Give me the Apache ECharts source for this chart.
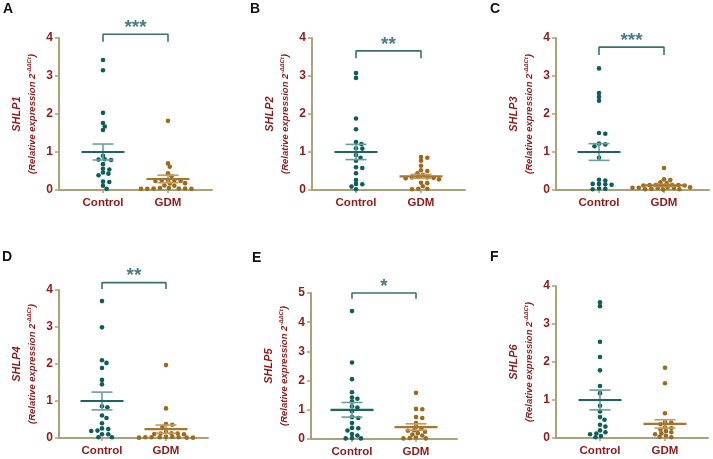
<!DOCTYPE html>
<html><head><meta charset="utf-8">
<script src="https://cdn.jsdelivr.net/npm/echarts@6/dist/echarts.min.js"></script>
<style>html,body{margin:0;padding:0;background:#fff}#c{width:713px;height:459px}</style>
</head><body><div id="c"></div>
<script>
// ---------- data ----------
const groups = ['Control', 'GDM'];
const panelLetters = ['A', 'B', 'C', 'D', 'E', 'F'];
const genes = ['SHLP1', 'SHLP2', 'SHLP3', 'SHLP4', 'SHLP5', 'SHLP6'];
const yMax = [4, 4, 4, 4, 5, 4];
const yTicks = [1, 1, 1, 1, 1, 1];

const ctrlA = [3.42, 3.15, 2.03, 1.76, 1.67, 1.58, 0.90, 0.81, 0.80, 0.79, 0.68, 0.56, 0.54, 0.46, 0.43, 0.39, 0.22, 0.21, 0.11, 0.03];
const gdmA  = [1.82, 0.70, 0.61, 0.44, 0.36, 0.26, 0.25, 0.25, 0.24, 0.24, 0.18, 0.17, 0.12, 0.11, 0.05, 0.05, 0.04, 0.04, 0.04, 0.03, 0.03, 0.03];
const ctrlB = [3.08, 2.95, 1.88, 1.60, 1.26, 1.21, 1.10, 1.09, 0.92, 0.85, 0.77, 0.60, 0.58, 0.44, 0.26, 0.16, 0.15, 0.09, 0.02];
const gdmB  = [0.87, 0.85, 0.77, 0.64, 0.52, 0.50, 0.44, 0.40, 0.34, 0.33, 0.33, 0.32, 0.31, 0.28, 0.19, 0.18, 0.10, 0.03, 0.03, 0.02];
const ctrlC = [3.20, 2.55, 2.45, 2.35, 1.50, 1.48, 1.22, 1.20, 1.15, 0.85, 0.27, 0.25, 0.16, 0.16, 0.15, 0.14, 0.04, 0.03, 0.02];
const gdmC  = [0.58, 0.28, 0.26, 0.20, 0.18, 0.14, 0.14, 0.13, 0.13, 0.12, 0.12, 0.11, 0.07, 0.07, 0.06, 0.06, 0.05, 0.05, 0.03, 0.02, 0.02, 0.01];
const ctrlD = [3.70, 2.99, 2.10, 2.03, 1.89, 1.57, 1.45, 0.86, 0.83, 0.61, 0.54, 0.40, 0.26, 0.24, 0.20, 0.19, 0.10, 0.10, 0.02, 0.02];
const gdmD  = [1.97, 0.80, 0.38, 0.36, 0.30, 0.16, 0.13, 0.12, 0.12, 0.11, 0.10, 0.03, 0.03, 0.02, 0.02, 0.02, 0.02, 0.01, 0.01, 0.01];
const ctrlE = [4.38, 2.62, 2.05, 1.60, 1.42, 1.38, 1.28, 1.12, 1.08, 0.95, 0.75, 0.72, 0.55, 0.38, 0.37, 0.29, 0.17, 0.12, 0.03, 0.02, 0.02];
const gdmE  = [1.58, 1.03, 1.02, 0.75, 0.72, 0.55, 0.42, 0.35, 0.30, 0.28, 0.25, 0.20, 0.15, 0.12, 0.05, 0.03, 0.02, 0.02];
const ctrlF = [3.57, 3.47, 2.53, 2.13, 1.78, 1.37, 1.18, 0.85, 0.70, 0.55, 0.48, 0.35, 0.30, 0.20, 0.15, 0.12, 0.10, 0.05, 0.02];
const gdmF  = [1.85, 1.44, 0.65, 0.42, 0.40, 0.36, 0.28, 0.26, 0.22, 0.18, 0.15, 0.12, 0.10, 0.06, 0.03, 0.02];

const meanCtrl = [1.00, 1.00, 1.00, 1.00, 1.00, 1.00];
const semCtrl  = [0.21, 0.20, 0.22, 0.24, 0.25, 0.26];
const meanGdm  = [0.29, 0.36, 0.12, 0.24, 0.41, 0.37];
const semGdm   = [0.10, 0.05, 0.03, 0.11, 0.11, 0.11];

const stars      = ['***', '**', '***', '**', '*', ''];
const bracketTop = [4.10, 3.66, 3.76, 4.20, 5.00, null];
const bracketLow = [3.90, 3.47, 3.55, 4.03, 4.80, null];

const ctrlSets = [ctrlA, ctrlB, ctrlC, ctrlD, ctrlE, ctrlF];
const gdmSets  = [gdmA, gdmB, gdmC, gdmD, gdmE, gdmF];

// ---------- layout / style ----------
const layout = [
  {left: 59,  top: 38,  width: 153, height: 152, c: 103, g: 168, lx: 8,   ly: 9},
  {left: 312, top: 38,  width: 153, height: 152, c: 356, g: 421, lx: 255, ly: 9},
  {left: 556, top: 38,  width: 153, height: 152, c: 599, g: 664, lx: 495, ly: 9},
  {left: 59,  top: 290, width: 149, height: 148, c: 102, g: 166, lx: 7,   ly: 257},
  {left: 311, top: 293, width: 146, height: 146, c: 352, g: 416, lx: 257, ly: 258},
  {left: 556, top: 286, width: 152, height: 152, c: 600, g: 665, lx: 495, ly: 257}
];
const RED = '#8E1B1B';
const AXIS = '#A8A37B';
const CTRL = '#0D5E5B', GDMC = '#9B6A1D';
const CTRL_MEAN = '#1B6663', GDM_MEAN = '#A8762B';
const CTRL_ERR = '#6A9F9D', GDM_ERR = '#C49B5F';
const BRACKET = '#3C706F', STAR = '#1E5A66';
const FONT = 'Liberation Sans, Arial, sans-serif';

// simple beeswarm with elliptical spacing: returns x offsets in pixels
function swarm(values, pxPerY, rx, ry) {
  const order = values.map((v, i) => i).sort((a, b) => values[b] - values[a]);
  const placed = [];
  const off = new Array(values.length).fill(0);
  const step = 0.9;
  for (const i of order) {
    const y = values[i] * pxPerY;
    for (let k = 0; k < 400; k++) {
      const n = Math.ceil(k / 2);
      const cand = k === 0 ? 0 : (k % 2 ? n : -n) * step;
      const ok = placed.every(p => {
        const dx = (p.x - cand) / rx, dy = (p.y - y) / ry;
        return dx * dx + dy * dy >= 1;
      });
      if (ok) { off[i] = cand; placed.push({x: cand, y: y}); break; }
    }
  }
  return off;
}

const grid = [], xAxis = [], yAxis = [], series = [], graphic = [];
const DOT = 4.6;

layout.forEach((L, p) => {
  const pxPerX = L.g - L.c;
  const xmin = 1 - (L.c - L.left) / pxPerX;
  const xmax = 2 + (L.left + L.width - L.g) / pxPerX;
  const pxPerY = L.height / yMax[p];
  grid.push({left: L.left, top: L.top, width: L.width, height: L.height});
  xAxis.push({
    type: 'value', gridIndex: p, min: xmin, max: xmax,
    axisLine: {show: true, onZero: false, lineStyle: {color: AXIS, width: 2}},
    axisTick: {show: true, customValues: [1, 2], length: 3, lineStyle: {color: AXIS, width: 1.5}},
    axisLabel: {show: true, customValues: [1, 2], formatter: v => groups[Math.round(v) - 1],
      color: RED, fontWeight: 'bold', fontSize: 11.5, fontFamily: FONT, margin: 7},
    splitLine: {show: false}
  });
  yAxis.push({
    type: 'value', gridIndex: p, min: 0, max: yMax[p], interval: yTicks[p],
    axisLine: {show: true, onZero: false, lineStyle: {color: AXIS, width: 2}},
    axisTick: {show: true, length: 4, lineStyle: {color: AXIS, width: 1.5}},
    axisLabel: {color: RED, fontWeight: 'bold', fontSize: 12, fontFamily: FONT, margin: 6},
    splitLine: {show: false},
    name: '{g|' + genes[p] + '}\n{t|(Relative expression 2}{s|-ΔΔCt}{t|)}',
    nameLocation: 'middle', nameRotate: 90, nameGap: 21,
    nameTextStyle: {
      color: RED, fontFamily: FONT, align: 'center',
      rich: {
        g: {fontSize: 11, fontWeight: 'bold', fontStyle: 'italic', color: RED, fontFamily: FONT, lineHeight: 18},
        t: {fontSize: 9.5, fontWeight: 'bold', fontStyle: 'italic', color: RED, fontFamily: FONT, lineHeight: 12},
        s: {fontSize: 6, fontWeight: 'bold', fontStyle: 'italic', color: RED, fontFamily: FONT, verticalAlign: 'top'}
      }
    }
  });

  const sets = [ctrlSets[p], gdmSets[p]];
  const cols = [CTRL, GDMC];
  sets.forEach((vals, gi) => {
    const off = swarm(vals, pxPerY, 5.6, 3.6);
    series.push({
      type: 'scatter', xAxisIndex: p, yAxisIndex: p, symbolSize: DOT, z: 3,
      itemStyle: {color: cols[gi], opacity: 1}, clip: false, silent: true,
      data: vals.map((v, i) => [gi + 1 + off[i] / pxPerX, v])
    });
  });

  series.push({
    type: 'custom', xAxisIndex: p, yAxisIndex: p, z: 4, clip: false, silent: true,
    data: [[1, meanCtrl[p], semCtrl[p], 0], [2, meanGdm[p], semGdm[p], 1]],
    renderItem: (params, api) => {
      const x = api.value(0), m = api.value(1), s = api.value(2), g = api.value(3);
      const c = api.coord([x, m]);
      const t = api.coord([x, m + s]);
      const b = api.coord([x, m - s]);
      const errCol = g ? GDM_ERR : CTRL_ERR;
      const meanCol = g ? GDM_MEAN : CTRL_MEAN;
      const hm = 21.5, hc = 10.5;
      const es = {stroke: errCol, lineWidth: 1.6};
      return {type: 'group', children: [
        {type: 'line', shape: {x1: c[0], y1: t[1], x2: c[0], y2: b[1]}, style: es},
        {type: 'line', shape: {x1: c[0] - hc, y1: t[1], x2: c[0] + hc, y2: t[1]}, style: es},
        {type: 'line', shape: {x1: c[0] - hc, y1: b[1], x2: c[0] + hc, y2: b[1]}, style: es},
        {type: 'line', shape: {x1: c[0] - hm, y1: c[1], x2: c[0] + hm, y2: c[1]}, style: {stroke: meanCol, lineWidth: 2.2}}
      ]};
    }
  });

  if (stars[p]) {
    series.push({
      type: 'line', xAxisIndex: p, yAxisIndex: p, clip: false, silent: true, symbol: 'none',
      lineStyle: {color: BRACKET, width: 1.6},
      data: [[1, bracketLow[p]], [1, bracketTop[p]], [2, bracketTop[p]], [2, bracketLow[p]]]
    });
    series.push({
      type: 'scatter', xAxisIndex: p, yAxisIndex: p, clip: false, silent: true, symbolSize: 0,
      data: [[1.5, bracketTop[p]]],
      label: {show: true, position: 'top', distance: -3, formatter: () => stars[p],
        color: STAR, fontSize: 19, fontWeight: 'bold', fontFamily: FONT, lineHeight: 19}
    });
  }

  graphic.push({type: 'text', left: L.lx - 5, top: L.ly - 7,
    style: {text: panelLetters[p], font: 'bold 14px ' + FONT, fill: '#111'}});
});

const chart = echarts.init(document.getElementById('c'), null, {renderer: 'canvas'});
chart.setOption({animation: false, backgroundColor: '#fff', grid, xAxis, yAxis, series, graphic});
</script>
</body></html>
